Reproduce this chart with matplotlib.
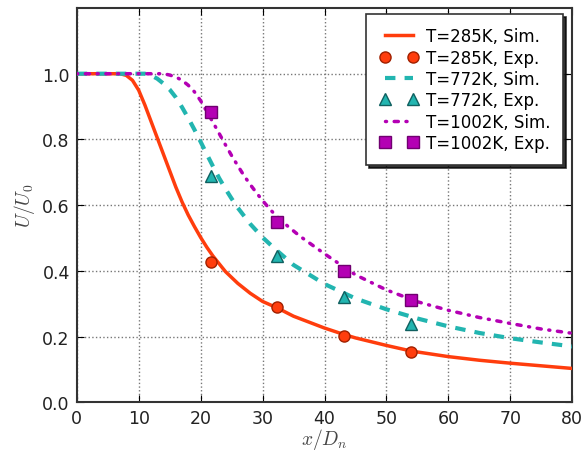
import numpy as np
import matplotlib
matplotlib.use("Agg")
import matplotlib.pyplot as plt

plt.rcParams["mathtext.fontset"] = "cm"

# simulation curves
x_285 = [0, 7, 8, 9, 10, 11, 12, 13, 14, 15, 16, 17, 18, 19, 20, 21, 22, 24, 26, 28, 30,
         32.4, 35, 40, 43.2, 45, 50, 54, 60, 65, 70, 75, 80]
u_285 = [1.0, 1.0, 0.995, 0.98, 0.95, 0.905, 0.855, 0.805, 0.755, 0.705, 0.655, 0.61, 0.57,
         0.535, 0.502, 0.472, 0.445, 0.398, 0.362, 0.332, 0.307, 0.287, 0.262, 0.226, 0.206,
         0.196, 0.173, 0.156, 0.139, 0.128, 0.119, 0.111, 0.103]

x_772 = [0, 11, 12, 13, 14, 15, 16, 17, 18, 19, 20, 21, 22, 23, 24, 25, 26, 28, 30, 32, 35,
         40, 45, 50, 55, 60, 65, 70, 75, 80]
u_772 = [1.0, 1.0, 0.995, 0.985, 0.97, 0.952, 0.928, 0.898, 0.865, 0.83, 0.793, 0.755, 0.718,
         0.682, 0.65, 0.62, 0.592, 0.543, 0.502, 0.467, 0.418, 0.36, 0.316, 0.283, 0.255,
         0.231, 0.211, 0.195, 0.182, 0.17]

x_1002 = [0, 14, 15, 16, 17, 18, 19, 20, 21, 22, 23, 24, 25, 26, 27, 28, 29, 30, 31, 32, 34,
          36, 40, 45, 50, 55, 60, 65, 70, 75, 80]
u_1002 = [1.0, 1.0, 0.996, 0.99, 0.98, 0.965, 0.945, 0.918, 0.885, 0.852, 0.818, 0.784, 0.751,
          0.72, 0.69, 0.663, 0.638, 0.614, 0.592, 0.571, 0.537, 0.506, 0.452, 0.388, 0.342,
          0.306, 0.28, 0.258, 0.24, 0.223, 0.21]

# experiments
x_exp = [21.6, 32.4, 43.2, 54.0]
exp_285 = [0.428, 0.29, 0.203, 0.152]
exp_772 = [0.69, 0.445, 0.32, 0.239]
exp_1002 = [0.885, 0.55, 0.40, 0.31]

red = "#ff3d0d"
teal = "#22b5b0"
mag = "#b400b4"

fig = plt.figure(figsize=(5.82, 4.52), dpi=100)
ax = fig.add_axes([76.7 / 582, 1 - 403.3 / 452, (572.3 - 76.7) / 582, (403.3 - 9) / 452])

ax.plot(x_285, u_285, "-", color=red, lw=2.5, label="T=285K, Sim.", zorder=3)
ax.plot(x_exp, exp_285, "o", color=red, mec="#a02000", ms=8, label="T=285K, Exp.", zorder=4)
ax.plot(x_772, u_772, "--", color=teal, lw=3, dashes=(2.5, 2.2), label="T=772K, Sim.", zorder=3)
ax.plot(x_exp, exp_772, "^", color=teal, mec="#106060", ms=9, label="T=772K, Exp.", zorder=4)
ax.plot(x_1002, u_1002, "-.", color=mag, lw=2.5, dashes=(0.3, 2.2, 1.2, 2.2),
        dash_capstyle="round", label="T=1002K, Sim.", zorder=3)
ax.plot(x_exp, exp_1002, "s", color=mag, mec="#700070", ms=8, label="T=1002K, Exp.", zorder=4)

ax.set_xlim(0, 80)
ax.set_ylim(0, 1.2)
ax.set_xticks(np.arange(0, 81, 10))
ax.set_yticks([0.0, 0.2, 0.4, 0.6, 0.8, 1.0])
ax.set_yticklabels(["0.0", "0.2", "0.4", "0.6", "0.8", "1.0"])
ax.tick_params(direction="in", top=True, right=True, labelsize=12.5, length=5, pad=5,
               labelcolor="#222222")
ax.grid(True, linestyle=":", color="#777777", lw=1)
for s in ax.spines.values():
    s.set_linewidth(1.5)
    s.set_color("#333333")

ax.set_xlabel("$x/D_n$", fontsize=14, color="#444444", labelpad=-1)
ax.set_ylabel("$U/U_0$", fontsize=14, color="#444444", labelpad=4)

leg = ax.legend(loc="upper right", numpoints=2, fontsize=12, shadow={"color": "k", "alpha": 0.8},
                fancybox=False, handlelength=2.3, handletextpad=0.45, labelspacing=0.2,
                borderpad=0.8, borderaxespad=0, bbox_to_anchor=(0.982, 0.985))
leg.get_frame().set_edgecolor("#333333")
leg.get_frame().set_linewidth(1.2)

fig.savefig("out.png", dpi=100)
